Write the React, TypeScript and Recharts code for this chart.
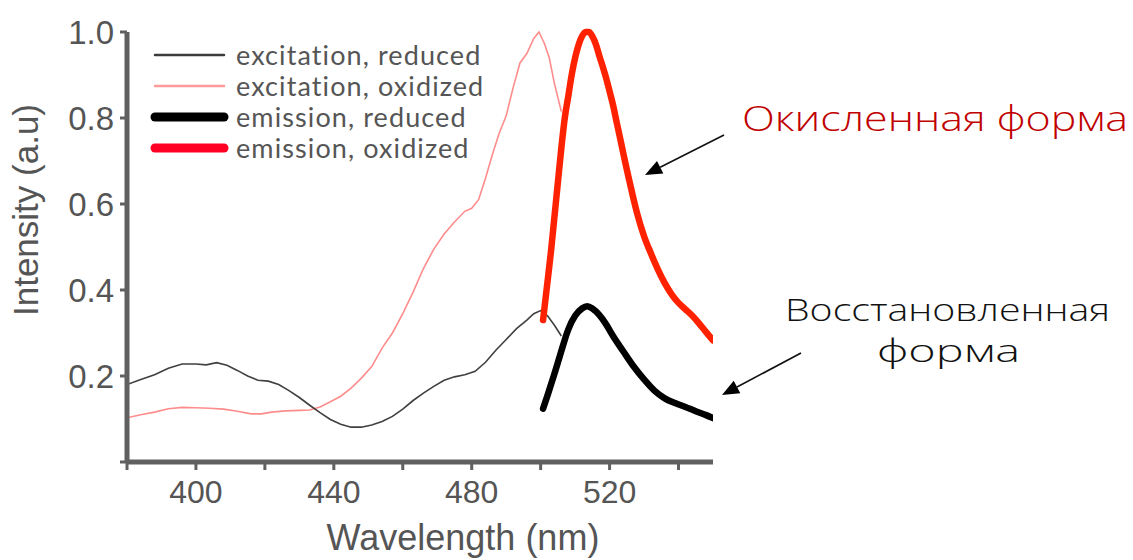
import React from 'react';
import { LineChart, Line, XAxis, YAxis, Legend, Label } from 'recharts';

// excitation spectra (thin lines)
const excReducedWl = [380, 384, 388, 392, 396, 400, 403, 406, 409, 412, 415, 418, 421, 424, 427, 430, 433, 436, 439, 442, 445, 448, 451, 454, 457, 460, 463, 466, 469, 472, 475, 478, 481, 484, 487, 490, 493, 496, 498, 500, 502, 504, 506];
const excReducedI = [0.180, 0.192, 0.203, 0.218, 0.228, 0.228, 0.226, 0.231, 0.225, 0.213, 0.200, 0.190, 0.188, 0.180, 0.166, 0.150, 0.132, 0.115, 0.099, 0.088, 0.081, 0.081, 0.086, 0.094, 0.106, 0.123, 0.143, 0.160, 0.176, 0.190, 0.198, 0.203, 0.211, 0.232, 0.260, 0.285, 0.310, 0.330, 0.345, 0.352, 0.340, 0.318, 0.293];

const excOxidizedWl = [380, 384, 388, 392, 396, 400, 404, 408, 412, 416, 419, 422, 426, 430, 433, 436, 439, 442, 445, 448, 451, 454, 457, 460, 463, 466, 469, 472, 475, 478, 480, 482, 484, 486, 488, 490, 492, 494, 496, 498, 499.5, 501, 502.5, 504, 506];
const excOxidizedI = [0.103, 0.110, 0.116, 0.124, 0.127, 0.126, 0.125, 0.123, 0.118, 0.112, 0.112, 0.116, 0.119, 0.120, 0.121, 0.128, 0.140, 0.153, 0.172, 0.195, 0.222, 0.265, 0.300, 0.345, 0.395, 0.450, 0.495, 0.530, 0.558, 0.583, 0.590, 0.610, 0.660, 0.715, 0.765, 0.805, 0.870, 0.928, 0.950, 0.985, 1.0, 0.975, 0.940, 0.880, 0.815];

// emission spectra (thick lines)
const emReducedWl = [500.7, 502, 504, 506, 508, 510, 512, 513.5, 515, 517, 519, 521, 524, 527, 530, 533, 536, 539, 542, 545, 548, 550];
const emReducedI = [0.124, 0.155, 0.205, 0.258, 0.308, 0.340, 0.357, 0.362, 0.357, 0.342, 0.320, 0.293, 0.257, 0.222, 0.192, 0.166, 0.148, 0.137, 0.128, 0.118, 0.109, 0.102];

const emOxidizedWl = [500.7, 502, 503, 504, 505, 506, 507, 508, 509, 510, 511, 512, 513, 514, 515, 516, 517, 518, 519, 520, 521, 522, 523, 524, 525, 526, 527, 528, 530, 532, 534, 536, 538, 540, 542, 544, 546, 548, 550];
const emOxidizedI = [0.330, 0.420, 0.490, 0.570, 0.650, 0.730, 0.800, 0.850, 0.900, 0.940, 0.970, 0.990, 1.0, 1.0, 0.990, 0.972, 0.945, 0.920, 0.893, 0.862, 0.830, 0.792, 0.755, 0.717, 0.680, 0.645, 0.610, 0.578, 0.525, 0.485, 0.448, 0.416, 0.390, 0.370, 0.355, 0.340, 0.322, 0.302, 0.283];

const seriesNames = ['excitation, reduced', 'excitation, oxidized', 'emission, reduced', 'emission, oxidized'];

const xTicks = [380, 400, 420, 440, 460, 480, 500, 520, 540];
const xLabeled = [400, 440, 480, 520];
const yTicks = [0, 0.2, 0.4, 0.6, 0.8, 1.0];

const toPoints = (wl: number[], val: number[]) => wl.map((x, i) => ({ x, y: val[i] }));

const axisColor = '#606060';
const textColor = '#555';
const arial = '"Liberation Sans", Arial, sans-serif';
const gothic = '"Open Sans", "Noto Sans", sans-serif';

const legendItems = [
  { name: seriesNames[0], color: '#3c3c3c', width: 2.5 },
  { name: seriesNames[1], color: '#ff9a9a', width: 2.5 },
  { name: seriesNames[2], color: '#000000', width: 9 },
  { name: seriesNames[3], color: '#ff0024', width: 9 },
];

function LegendBox() {
  return (
    <div style={{ fontFamily: 'Lato, "Open Sans", sans-serif', fontSize: 27, letterSpacing: 1.1, color: textColor }}>
      {legendItems.map((it) => (
        <div key={it.name} style={{ display: 'flex', alignItems: 'center', height: 31 }}>
          <svg width={80} height={31}>
            <line x1={5} x2={74} y1={16} y2={16} stroke={it.color} strokeWidth={it.width} strokeLinecap="round" />
          </svg>
          <span style={{ marginLeft: 6, lineHeight: '31px', whiteSpace: 'nowrap' }}>{it.name}</span>
        </div>
      ))}
    </div>
  );
}

function Arrow({ x1, y1, x2, y2 }: { x1: number; y1: number; x2: number; y2: number }) {
  const ang = Math.atan2(y2 - y1, x2 - x1);
  const len = 17;
  const half = 7;
  const bx = x2 - len * Math.cos(ang);
  const by = y2 - len * Math.sin(ang);
  const px = -Math.sin(ang) * half;
  const py = Math.cos(ang) * half;
  return (
    <g>
      <line x1={x1} y1={y1} x2={bx} y2={by} stroke="#111" strokeWidth={1.6} />
      <polygon points={`${x2},${y2} ${bx + px},${by + py} ${bx - px},${by - py}`} fill="#000" />
    </g>
  );
}

export default function App() {
  return (
    <div style={{ position: 'relative', width: 1117, height: 550 }}>
      <LineChart width={1117} height={550} margin={{ top: 24, right: 412, bottom: 0, left: 0 }}>
        <XAxis
          type="number"
          dataKey="x"
          domain={[380, 550]}
          ticks={xTicks}
          allowDataOverflow
          height={96}
          tickSize={8}
          tickMargin={10}
          tickFormatter={(v: number) => (xLabeled.includes(v) ? String(v) : '')}
          tick={{ fontSize: 32, fill: textColor, fontFamily: arial }}
          axisLine={{ stroke: axisColor, strokeWidth: 5 }}
          tickLine={{ stroke: axisColor, strokeWidth: 3 }}
        >
          <Label
            content={() => (
              <text x={455} y={542} textAnchor="middle" fontSize={36} fill={textColor} fontFamily={arial}>
                Wavelength (nm)
              </text>
            )}
          />
        </XAxis>
        <YAxis
          type="number"
          domain={[0, 1]}
          ticks={yTicks}
          width={119}
          tickSize={7}
          tickMargin={6}
          tickFormatter={(v: number) => (v === 0 ? '' : v.toFixed(1))}
          tick={{ fontSize: 33, fill: textColor, fontFamily: arial }}
          axisLine={{ stroke: axisColor, strokeWidth: 5 }}
          tickLine={{ stroke: axisColor, strokeWidth: 3 }}
        >
          <Label
            content={() => (
              <text x={30} y={202} transform="rotate(-90 30 202)" textAnchor="middle" fontSize={35} fill={textColor} fontFamily={arial}>
                Intensity (a.u)
              </text>
            )}
          />
        </YAxis>
        <Legend
          layout="vertical"
          align="center"
          verticalAlign="middle"
          content={<LegendBox />}
          wrapperStyle={{ left: 142, top: 31, width: 380 }}
        />
        <Line data={toPoints(excOxidizedWl, excOxidizedI)} dataKey="y" name={seriesNames[1]} type="linear" stroke="#ff8c8c" strokeWidth={1.6} dot={false} isAnimationActive={false} />
        <Line data={toPoints(excReducedWl, excReducedI)} dataKey="y" name={seriesNames[0]} type="linear" stroke="#404040" strokeWidth={1.6} dot={false} isAnimationActive={false} />
        <Line data={toPoints(emReducedWl, emReducedI)} dataKey="y" name={seriesNames[2]} type="monotone" stroke="#000" strokeWidth={6.5} strokeLinecap="round" dot={false} isAnimationActive={false} />
        <Line data={toPoints(emOxidizedWl, emOxidizedI)} dataKey="y" name={seriesNames[3]} type="monotone" stroke="#ff2200" strokeWidth={6.5} strokeLinecap="round" dot={false} isAnimationActive={false} />
      </LineChart>
      <svg width={1117} height={550} style={{ position: 'absolute', left: 0, top: 0, pointerEvents: 'none' }}>
        <text x={734} y={123} fontSize={34} fontWeight={300} fill="#c00000" fontFamily={gothic} textLength={386} lengthAdjust="spacingAndGlyphs">
          Окисленная форма
        </text>
        <text x={777} y={313} fontSize={31} fontWeight={300} fill="#111" fontFamily={gothic} textLength={325} lengthAdjust="spacingAndGlyphs">
          Восстановленная
        </text>
        <text x={869} y={354} fontSize={31} fontWeight={300} fill="#111" fontFamily={gothic} textLength={143} lengthAdjust="spacingAndGlyphs">
          форма
        </text>
        <Arrow x1={716} y1={127} x2={637} y2={167} />
        <Arrow x1={793} y1={345} x2={714} y2={387} />
      </svg>
    </div>
  );
}
